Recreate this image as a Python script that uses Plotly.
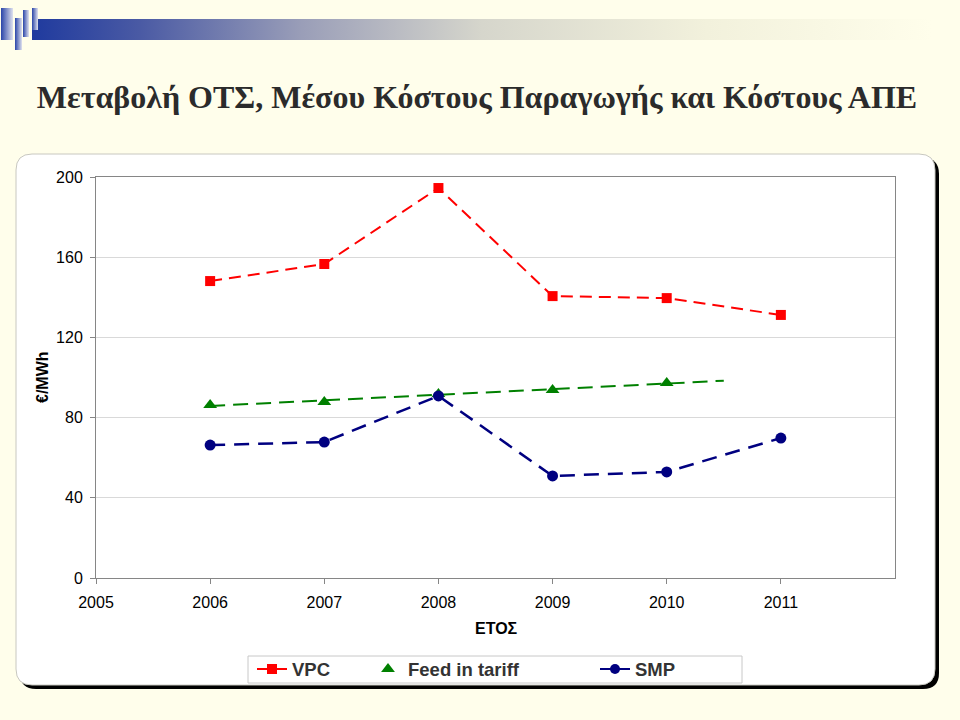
import base64
import numpy as np
import plotly.graph_objects as go

# ---------------- data ----------------
years = [2006, 2007, 2008, 2009, 2010, 2011]
vpc = [148.1, 156.6, 194.5, 140.6, 139.6, 131.2]
feed_years = [2006, 2007, 2008, 2009, 2010]
feed_in_tariff = [86.3, 87.8, 91.8, 93.8, 97.3]
smp = [66.3, 67.8, 90.8, 50.9, 52.9, 69.8]
x_ticks = [2005, 2006, 2007, 2008, 2009, 2010, 2011]
y_ticks = [0, 40, 80, 120, 160, 200]

title_text = "Μεταβολή ΟΤΣ, Μέσου Κόστους Παραγωγής και Κόστους ΑΠΕ"
x_title = "ΕΤΟΣ"
y_title = "€/MWh"

# linear trendline for the feed-in tariff (forecast forward 0.5)
coef = np.polyfit(feed_years, feed_in_tariff, 1)
trend_x = [feed_years[0], feed_years[-1] + 0.5]
trend_y = list(np.polyval(coef, trend_x))

# ---------------- layout geometry ----------------
W, H = 960, 720
PL, PR, PT, PB = 96, 895, 177, 578


def px(x):
    return (x - PL) / (PR - PL)


def py(y):
    return (PB - y) / (PB - PT)


def rounded_path(x0, y0, x1, y1, r):
    rx = r / (PR - PL)
    ry = r / (PB - PT)
    X0, X1 = px(x0), px(x1)
    Y0, Y1 = py(y0), py(y1)  # Y0 top (larger), Y1 bottom
    return (f"M {X0+rx},{Y0} L {X1-rx},{Y0} Q {X1},{Y0} {X1},{Y0-ry} "
            f"L {X1},{Y1+ry} Q {X1},{Y1} {X1-rx},{Y1} "
            f"L {X0+rx},{Y1} Q {X0},{Y1} {X0},{Y1+ry} "
            f"L {X0},{Y0-ry} Q {X0},{Y0} {X0+rx},{Y0} Z")


BG = "#FFFEEB"
RED = "#FF0000"
GREEN = "#008000"
NAVY = "#000080"
AXIS_FONT = "Liberation Sans, Arial, sans-serif"

fig = go.Figure()

# data traces
fig.add_trace(go.Scatter(
    x=years, y=vpc, mode="lines+markers", showlegend=False, name="VPC",
    line=dict(color=RED, width=2, dash="12px,7px"),
    marker=dict(symbol="square", size=10, color=RED)))
fig.add_trace(go.Scatter(
    x=trend_x, y=trend_y, mode="lines", showlegend=False, hoverinfo="skip",
    line=dict(color=GREEN, width=2, dash="15px,8px")))
fig.add_trace(go.Scatter(
    x=feed_years, y=feed_in_tariff, mode="markers", showlegend=False, name="Feed in tariff",
    marker=dict(symbol="triangle-up", size=12, color=GREEN)))
fig.add_trace(go.Scatter(
    x=years, y=smp, mode="lines+markers", showlegend=False, name="SMP",
    line=dict(color=NAVY, width=2.5, dash="15px,9px"),
    marker=dict(symbol="circle", size=11, color=NAVY)))

# legend entries (solid line symbols, as in the reference)
fig.add_trace(go.Scatter(
    x=[None], y=[None], mode="lines+markers", name="VPC", legend="legend",
    line=dict(color=RED, width=2), marker=dict(symbol="square", size=10, color=RED)))
fig.add_trace(go.Scatter(
    x=[None], y=[None], mode="markers", name="Feed in tariff", legend="legend2",
    marker=dict(symbol="triangle-up", size=12, color=GREEN)))
fig.add_trace(go.Scatter(
    x=[None], y=[None], mode="lines+markers", name="SMP", legend="legend3",
    line=dict(color=NAVY, width=2), marker=dict(symbol="circle", size=10, color=NAVY)))

leg_font = dict(family=AXIS_FONT, size=18.5, color="#333333", weight="bold")
leg_y = py(669.5)


def leg(xpix):
    return dict(x=px(xpix), xanchor="left", y=leg_y, yanchor="middle",
                orientation="h", bgcolor="rgba(0,0,0,0)", borderwidth=0,
                font=leg_font)


# header graphic as inline SVG
svg = f"""<svg xmlns='http://www.w3.org/2000/svg' width='960' height='55' viewBox='0 0 960 55'>
<defs>
<linearGradient id='g' x1='0' x2='1' y1='0' y2='0'>
<stop offset='0' stop-color='#1f3a9e'/>
<stop offset='0.12' stop-color='#4a5aa4'/>
<stop offset='0.3' stop-color='#9a9eb8'/>
<stop offset='0.5' stop-color='#d6d6cc'/>
<stop offset='0.75' stop-color='#f2f1dc'/>
<stop offset='1' stop-color='{BG}'/>
</linearGradient>
<linearGradient id='v' x1='0' x2='1' y1='0' y2='0'>
<stop offset='0' stop-color='#2a45a8'/>
<stop offset='1' stop-color='#dfe1ee'/>
</linearGradient>
</defs>
<rect x='0' y='0' width='960' height='55' fill='{BG}'/>
<rect x='32' y='19' width='900' height='21' fill='url(#g)'/>
<rect x='1' y='8' width='12' height='32' fill='url(#v)'/>
<rect x='15' y='18' width='7' height='32' fill='url(#v)'/>
<rect x='23' y='10' width='6' height='27' fill='url(#v)'/>
<rect x='32' y='8' width='6' height='22' fill='url(#v)'/>
</svg>"""
svg_uri = "data:image/svg+xml;base64," + base64.b64encode(svg.encode()).decode()

shapes = [
    # shadow
    dict(type="path", xref="paper", yref="paper", layer="below",
         path=rounded_path(20, 158, 939, 689, 16), fillcolor="#000000", line=dict(width=0)),
    # chart area
    dict(type="path", xref="paper", yref="paper", layer="below",
         path=rounded_path(16, 154, 935, 685, 16), fillcolor="#FFFFFF",
         line=dict(color="#C8C8C0", width=1)),
    # legend box
    dict(type="rect", xref="paper", yref="paper", layer="below",
         x0=px(248), x1=px(742), y0=py(656), y1=py(683),
         fillcolor="#FFFFFF", line=dict(color="#C8C8C8", width=1)),
]

annotations = [
    dict(text=y_title, textangle=-90, xref="paper", yref="paper",
         x=px(42), y=py(377), xanchor="center", yanchor="middle", showarrow=False,
         font=dict(family=AXIS_FONT, size=16, color="#000000", weight="bold")),
    dict(text=x_title, xref="paper", yref="paper",
         x=px(496), y=py(628), xanchor="center", yanchor="middle", showarrow=False,
         font=dict(family=AXIS_FONT, size=16, color="#000000", weight="bold")),
]

fig.update_layout(
    width=W, height=H,
    margin=dict(l=PL, r=W - PR, t=PT, b=H - PB, pad=0),
    paper_bgcolor=BG, plot_bgcolor="#FFFFFF",
    title=dict(text=title_text, x=477 / W, xanchor="center", xref="container",
               y=1 - 97 / H, yanchor="middle", yref="container",
               font=dict(family="Liberation Serif, Times New Roman, serif",
                         size=32, color="#2B2B2B", weight="bold")),
    xaxis=dict(range=[2005, 2012], tickvals=x_ticks, ticktext=[str(v) for v in x_ticks],
               showgrid=False, zeroline=False, showline=True, linecolor="#868686",
               linewidth=1, mirror=True, ticks="outside", ticklen=5, tickcolor="#868686",
               ticklabelstandoff=5,
               tickfont=dict(family=AXIS_FONT, size=16, color="#000000")),
    yaxis=dict(range=[0, 200], tickvals=y_ticks, showgrid=True, gridcolor="#D9D9D9",
               gridwidth=1, zeroline=False, showline=True, linecolor="#868686",
               linewidth=1, mirror=True, ticks="outside", ticklen=5, tickcolor="#868686",
               ticklabelstandoff=4,
               tickfont=dict(family=AXIS_FONT, size=16, color="#000000")),
    legend=leg(252), legend2=leg(368), legend3=leg(595),
    shapes=shapes, annotations=annotations,
    images=[dict(source=svg_uri, xref="paper", yref="paper", x=px(0), y=py(0),
                 sizex=W / (PR - PL), sizey=55 / (PB - PT), xanchor="left", yanchor="top",
                 sizing="stretch", layer="above")],
)

# remove the browser's default page margin so the figure sits at the window origin
fig.write_html("out.html",
               config={"displayModeBar": False},
               post_script="document.body.style.margin='0';"
                           "document.body.style.background='" + BG + "';")
